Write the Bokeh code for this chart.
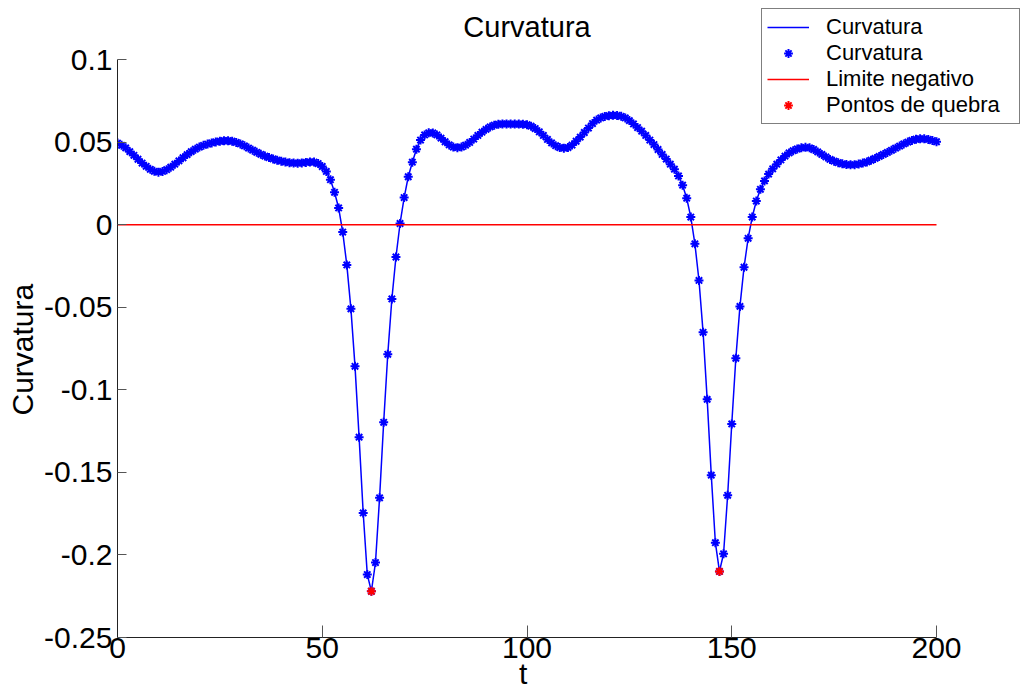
from bokeh.plotting import figure
from bokeh.models import Range1d, FixedTicker, Legend, LegendItem, Label, Title
from bokeh.embed import file_html
from bokeh.resources import INLINE

# ---- data ----
t_values = list(range(0, 201))
curvature = [
    0.0494, 0.0480, 0.0465, 0.0442, 0.0420, 0.0396, 0.0373, 0.0353, 0.0335, 0.0323,
    0.0318, 0.0322, 0.0333, 0.0348, 0.0366, 0.0386, 0.0405, 0.0424, 0.0442, 0.0457,
    0.0470, 0.0480, 0.0488, 0.0495, 0.0501, 0.0505, 0.0508, 0.0508, 0.0505, 0.0498,
    0.0489, 0.0477, 0.0464, 0.0451, 0.0438, 0.0426, 0.0415, 0.0406, 0.0398, 0.0390,
    0.0384, 0.0379, 0.0375, 0.0373, 0.0372, 0.0374, 0.0377, 0.0380, 0.0379, 0.0370,
    0.0352, 0.0322, 0.0272, 0.0196, 0.0101, -0.0045, -0.0244, -0.0510, -0.0858, -0.1287,
    -0.1746, -0.2119, -0.2220, -0.2046, -0.1654, -0.1197, -0.0785, -0.0450, -0.0196, 0.0007,
    0.0164, 0.0290, 0.0378, 0.0457, 0.0512, 0.0543, 0.0556, 0.0555, 0.0543, 0.0524,
    0.0502, 0.0483, 0.0470, 0.0466, 0.0470, 0.0481, 0.0498, 0.0518, 0.0540, 0.0560,
    0.0577, 0.0592, 0.0602, 0.0608, 0.0610, 0.0610, 0.0609, 0.0609, 0.0609, 0.0608,
    0.0605, 0.0596, 0.0582, 0.0562, 0.0540, 0.0516, 0.0495, 0.0478, 0.0467, 0.0463,
    0.0467, 0.0482, 0.0505, 0.0530, 0.0558, 0.0585, 0.0612, 0.0633, 0.0646, 0.0655,
    0.0660, 0.0662, 0.0661, 0.0656, 0.0646, 0.0630, 0.0610, 0.0588, 0.0566, 0.0540,
    0.0512, 0.0485, 0.0455, 0.0425, 0.0397, 0.0366, 0.0336, 0.0295, 0.0239, 0.0160,
    0.0046, -0.0116, -0.0338, -0.0652, -0.1058, -0.1517, -0.1926, -0.2100, -0.1993, -0.1639,
    -0.1207, -0.0809, -0.0495, -0.0258, -0.0083, 0.0046, 0.0143, 0.0214, 0.0265, 0.0306,
    0.0338, 0.0366, 0.0392, 0.0415, 0.0434, 0.0448, 0.0458, 0.0465, 0.0468, 0.0465,
    0.0455, 0.0440, 0.0425, 0.0410, 0.0395, 0.0384, 0.0375, 0.0368, 0.0364, 0.0362,
    0.0363, 0.0367, 0.0373, 0.0380, 0.0390, 0.0401, 0.0413, 0.0425, 0.0437, 0.0450,
    0.0463, 0.0476, 0.0489, 0.0500, 0.0510, 0.0517, 0.0520, 0.0520, 0.0516, 0.0509,
    0.0502,
]
limit_t = [0, 200]
limit_v = [0.0, 0.0]
break_t = [62, 147]
break_v = [-0.2220, -0.2100]

x_ticks = [0, 50, 100, 150, 200]
x_labels = ["0", "50", "100", "150", "200"]
y_ticks = [-0.25, -0.2, -0.15, -0.1, -0.05, 0, 0.05, 0.1]
y_labels = ["-0.25", "-0.2", "-0.15", "-0.1", "-0.05", "0", "0.05", "0.1"]

title_text = "Curvatura"
x_title = "t"
y_title = "Curvatura"
legend_labels = ["Curvatura", "Curvatura", "Limite negativo", "Pontos de quebra"]

FONT = "Liberation Sans"
BLUE = "#0000ff"
RED = "#ff0000"

# ---- layout geometry (pixels) ----
W, H = 1027, 697
AX_L, AX_R, AX_T, AX_B = 117, 936, 59, 637      # where the axes box sits
FR_T = 8                                          # frame extends up/right so the legend fits
X0, X1, Y0, Y1 = 0, 200, -0.25, 0.1
xpp = (X1 - X0) / (AX_R - AX_L)
ypp = (Y1 - Y0) / (AX_B - AX_T)
x_end = X1 + (W - AX_R) * xpp
y_end = Y1 + (AX_T - FR_T) * ypp

p = figure(width=W, height=H, output_backend="svg", toolbar_location=None,
           x_range=Range1d(X0, x_end), y_range=Range1d(Y0, y_end),
           min_border_left=AX_L, min_border_right=0, min_border_top=FR_T,
           min_border_bottom=H - AX_B, title=None)

p.outline_line_color = None
p.xgrid.visible = False
p.ygrid.visible = False
p.background_fill_color = "white"
p.border_fill_color = "white"

for ax in (p.xaxis[0], p.yaxis[0]):
    ax.axis_line_color = "#222222"
    ax.axis_line_width = 1
    ax.major_tick_line_color = "#555555"
    ax.minor_tick_line_color = None
    ax.major_tick_out = 0
    ax.major_label_text_font = FONT
    ax.major_label_text_font_size = "30px"
    ax.major_label_text_color = "black"

p.xaxis[0].bounds = (X0, X1)
p.xaxis[0].ticker = FixedTicker(ticks=x_ticks)
p.xaxis[0].major_label_overrides = dict(zip(x_ticks, x_labels))
p.xaxis[0].major_tick_in = 12
p.xaxis[0].major_label_standoff = 0

p.yaxis[0].bounds = (Y0, Y1)
p.yaxis[0].ticker = FixedTicker(ticks=y_ticks)
p.yaxis[0].major_label_overrides = dict(zip(y_ticks, y_labels))
p.yaxis[0].major_tick_in = 9
p.yaxis[0].major_label_standoff = 5

# axis titles as offset titles in the side panels
xt = Title(text=x_title, align="left", offset=(AX_R - AX_L) / 2 - 8, standoff=-12,
           vertical_align="bottom", text_font=FONT, text_font_size="30px",
           text_font_style="normal", text_color="black")
p.add_layout(xt, "below")
yt = Title(text=y_title, align="left", offset=222, standoff=6,
           text_font=FONT, text_font_size="30px",
           text_font_style="normal", text_color="black")
p.add_layout(yt, "left")

# chart title, centred over the axes box
p.add_layout(Label(x=(X0 + X1) / 2, y=Y1 + (AX_T - 26) * ypp, text=title_text,
                   text_align="center", text_baseline="middle",
                   text_font=FONT, text_font_size="29px", text_color="black"))

r_line = p.line(t_values, curvature, line_color=BLUE, line_width=1.5)
r_pts = p.scatter(t_values, curvature, marker="asterisk", size=9,
                  line_color=BLUE, line_width=2)
r_lim = p.line(limit_t, limit_v, line_color=RED, line_width=1.5)
r_brk = p.scatter(break_t, break_v, marker="asterisk", size=9,
                  line_color=RED, line_width=2)

legend = Legend(items=[
    LegendItem(label=legend_labels[0], renderers=[r_line]),
    LegendItem(label=legend_labels[1], renderers=[r_pts]),
    LegendItem(label=legend_labels[2], renderers=[r_lim]),
    LegendItem(label=legend_labels[3], renderers=[r_brk]),
], location=(644, 513))
legend.label_text_font = FONT
legend.label_text_font_size = "22px"
legend.label_text_color = "black"
legend.glyph_width = 42
legend.glyph_height = 22
legend.label_height = 22
legend.label_width = 188
legend.label_standoff = 17
legend.spacing = 0
legend.padding = 5
legend.margin = 0
legend.border_line_color = "black"
legend.border_line_width = 1
legend.background_fill_color = "white"
legend.background_fill_alpha = 1.0
p.add_layout(legend, "center")

open("out.html", "w").write(file_html(p, INLINE))
